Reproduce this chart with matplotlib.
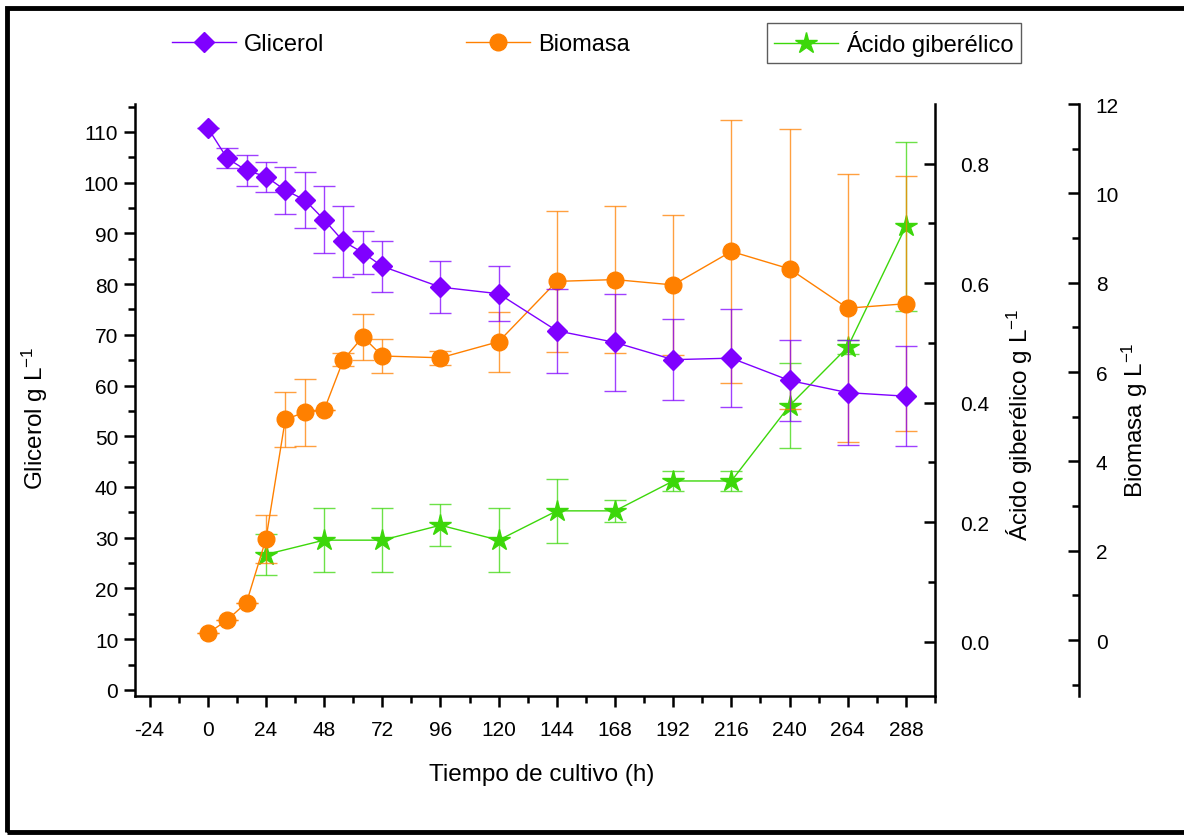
import matplotlib
matplotlib.use("Agg")
import matplotlib.pyplot as plt
from matplotlib import font_manager
from matplotlib.lines import Line2D
from matplotlib.patches import Rectangle
from matplotlib.ticker import MultipleLocator, FormatStrFormatter

# data
horas = [0, 8, 16, 24, 32, 40, 48, 56, 64, 72, 96, 120, 144, 168, 192, 216, 240, 264, 288]
glicerol = [110.8, 104.8, 102.4, 101.2, 98.5, 96.6, 92.7, 88.4, 86.2, 83.5, 79.4, 78.1,
            70.8, 68.5, 65.1, 65.4, 61.0, 58.6, 57.9]
glicerol_err = [0, 2.0, 3.0, 2.95, 4.65, 5.5, 6.6, 7.0, 4.3, 5.05, 5.1, 5.45,
                8.3, 9.5, 8.0, 9.7, 8.0, 10.4, 9.9]
biomasa = [0.15, 0.45, 0.84, 2.26, 4.94, 5.10, 5.15, 6.28, 6.79, 6.36, 6.32, 6.68,
           8.03, 8.07, 7.95, 8.70, 8.31, 7.43, 7.53]
biomasa_err = [0, 0, 0, 0.53, 0.62, 0.75, 0, 0.15, 0.51, 0.37, 0.16, 0.67,
               1.57, 1.64, 1.57, 2.95, 3.13, 3.0, 2.85]
horas_ag = [24, 48, 72, 96, 120, 144, 168, 192, 216, 240, 264, 288]
giberelico = [0.146, 0.170, 0.170, 0.195, 0.170, 0.219, 0.219, 0.269, 0.269, 0.395, 0.493, 0.695]
giberelico_err = [0.035, 0.053, 0.053, 0.035, 0.053, 0.053, 0.018, 0.017, 0.017, 0.071, 0.012, 0.141]

x_ticks = list(range(-24, 289, 24))

c_gli = "#7F00FF"
c_bio = "#FF8000"
c_ag = "#3CD70A"

names = {f.name for f in font_manager.fontManager.ttflist}
narrow = "Liberation Sans Narrow" if "Liberation Sans Narrow" in names else "Liberation Sans"
regular = "Liberation Sans"
plt.rcParams["font.family"] = [regular, "DejaVu Sans"]
plt.rcParams["mathtext.default"] = "regular"
plt.rcParams["axes.unicode_minus"] = False

fig = plt.figure(figsize=(11.84, 8.37), dpi=100)
W, H = 1184, 837
x0, x1, y0, y1 = 135, 935, 697, 105
rect = [x0 / W, 1 - y0 / H, (x1 - x0) / W, (y0 - y1) / H]

ax = fig.add_axes(rect)
ax_ag = ax.twinx()
ax_bio = ax.twinx()
ax.set_zorder(3)
ax_bio.set_zorder(2)
ax_ag.set_zorder(1)
ax.patch.set_visible(False)
ax_bio.patch.set_visible(False)

lw_sp = 1.8
for a in (ax, ax_ag, ax_bio):
    for s in a.spines.values():
        s.set_visible(False)
        s.set_linewidth(lw_sp)
ax.spines["left"].set_visible(True)
ax.spines["bottom"].set_visible(True)
ax_ag.spines["right"].set_visible(True)
ax_bio.spines["right"].set_visible(True)
ax_bio.spines["right"].set_position(("axes", 1 + 144 / 800))

ebkw = dict(elinewidth=1.0, capsize=8, capthick=1.0, lw=1.0)

e = ax_ag.errorbar(horas_ag, giberelico, yerr=giberelico_err, color=c_ag, marker="*",
                   ms=16, mec=c_ag, **ebkw)
for part in e[1] + e[2]:
    part.set_alpha(0.75)
e = ax_bio.errorbar(horas, biomasa, yerr=biomasa_err, color=c_bio, marker="o",
                    ms=12, mec=c_bio, **ebkw)
for part in e[1] + e[2]:
    part.set_alpha(0.75)
e = ax.errorbar(horas, glicerol, yerr=glicerol_err, color=c_gli, marker="D",
                ms=10, mec=c_gli, **ebkw)
for part in e[1] + e[2]:
    part.set_alpha(0.75)

ax.set_xlim(-30, 300)
ax.set_ylim(-1.2, 115.5)
ax_ag.set_ylim(-0.0907, 0.8996)
ax_bio.set_ylim(-1.25, 12.0)

ax.set_xticks(x_ticks)
ax.xaxis.set_minor_locator(MultipleLocator(12))
ax.set_yticks(range(0, 111, 10))
ax.yaxis.set_minor_locator(MultipleLocator(5))
ax_ag.yaxis.set_major_locator(MultipleLocator(0.2))
ax_ag.yaxis.set_minor_locator(MultipleLocator(0.1))
ax_ag.yaxis.set_major_formatter(FormatStrFormatter("%.1f"))
ax_bio.yaxis.set_major_locator(MultipleLocator(2))
ax_bio.yaxis.set_minor_locator(MultipleLocator(1))

ax.tick_params(axis="x", which="major", direction="out", length=8, width=1.8,
               pad=9, labelsize=15, labelfontfamily=narrow)
ax.tick_params(axis="x", which="minor", direction="out", length=5, width=1.8)
ax.tick_params(axis="y", which="major", direction="out", length=8, width=1.8,
               pad=4, labelsize=15)
ax.tick_params(axis="y", which="minor", direction="out", length=5, width=1.8)
ax.tick_params(top=False, right=False, which="both")
ax_ag.tick_params(axis="y", which="major", direction="in", length=8, width=1.8,
                  pad=18, labelsize=15)
ax_ag.tick_params(axis="y", which="minor", direction="in", length=5, width=1.8)
ax_bio.tick_params(axis="y", which="major", direction="in", length=8, width=1.8,
                   pad=12, labelsize=15)
ax_bio.tick_params(axis="y", which="minor", direction="in", length=5, width=1.8)

lab = dict(fontsize=17.5, family=[narrow, "DejaVu Sans"], ha="center", va="center")
fig.text(542 / W, 1 - 775 / H, "Tiempo de cultivo (h)", **lab)
fig.text(35 / W, 1 - 418 / H, "Glicerol g L$^{-1}$", rotation=90, **lab)
fig.text(1020 / W, 1 - 425 / H, "Ácido giberélico g L$^{-1}$", rotation=90, **lab)
fig.text(1135 / W, 1 - 420 / H, "Biomasa g L$^{-1}$", rotation=90, **lab)

leg_font = dict(family=[narrow, "DejaVu Sans"], size=17)
h_gli = Line2D([], [], color=c_gli, marker="D", ms=10, lw=1.0)
h_bio = Line2D([], [], color=c_bio, marker="o", ms=12, lw=1.0)
h_ag = Line2D([], [], color=c_ag, marker="*", ms=16, lw=1.0)
common = dict(loc="center left", handlelength=2.7, handletextpad=0.35,
              borderaxespad=0, prop=leg_font)
fig.legend(handles=[h_gli], labels=["Glicerol"], bbox_to_anchor=(172 / W, 1 - 45 / H),
           frameon=False, borderpad=0, **common)
fig.legend(handles=[h_bio], labels=["Biomasa"], bbox_to_anchor=(466 / W, 1 - 45 / H),
           frameon=False, borderpad=0, **common)
lg = fig.legend(handles=[h_ag], labels=["Ácido giberélico"],
                bbox_to_anchor=(767 / W, 1 - 44 / H), frameon=True, fancybox=False,
                borderpad=0.3, **common)
lg.get_frame().set_edgecolor("#333333")
lg.get_frame().set_linewidth(1.0)

# outer frame
fig.patches.append(Rectangle((7 / W, 4 / H), 1.2, 1 - 13 / H, transform=fig.transFigure,
                             fill=False, ec="black", lw=3.5))

fig.savefig("out.png", dpi=100)
